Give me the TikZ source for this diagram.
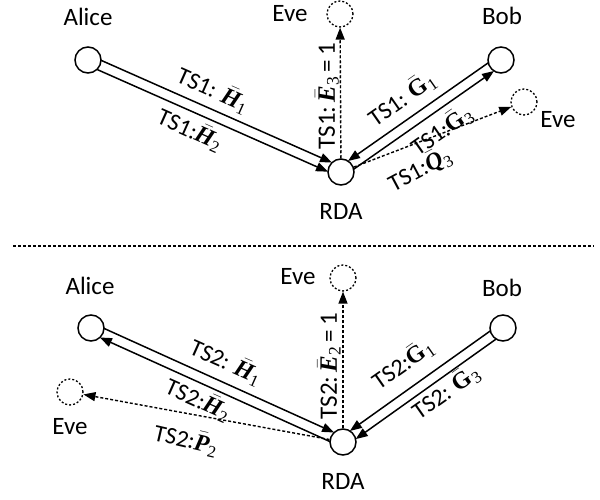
\documentclass[tikz,border=0pt]{standalone}
\usepackage{fontspec}
\usepackage{amsmath}
\setmainfont{Carlito}
\newfontfamily\mth{Liberation Serif}
\usetikzlibrary{calc,arrows.meta}
\newcommand{\vbi}[2]{$\bar{\text{\mth\bfseries\itshape #1}}_{\text{\mth #2}}$}
\newcommand{\vbu}[2]{$\bar{\text{\mth\bfseries #1}}_{\text{\mth #2}}$}
\begin{document}
\begin{tikzpicture}[x=1pt,y=-1pt,
  party/.style={circle,draw,line width=1.5pt,fill=white,minimum size=26pt,inner sep=0pt},
  eve/.style={circle,draw,line width=1.3pt,dash pattern=on 2pt off 2pt,minimum size=26pt,inner sep=0pt},
  who/.style={font=\fontsize{25}{28}\selectfont,inner sep=0pt},
  lab/.style={font=\fontsize{24}{26}\selectfont,inner sep=0pt},
  vlab/.style={font=\fontsize{25}{28}\selectfont,inner sep=0pt,rotate=90},
  link/.style={line width=1.5pt,-{Triangle[length=12pt,width=9pt]}},
  leak/.style={line width=1.4pt,dash pattern=on 3pt off 2pt,-{Triangle[length=12pt,width=9pt]}},
  sep/.style={line width=1.4pt,dash pattern=on 3pt off 2pt}
]
\useasboundingbox (0,0) rectangle (600,500);
% ---------- top half ----------
\node[party] (A1) at (88,60) {};
\node[party] (R1) at (341,172) {};
\node[party] (B1) at (501,60) {};
\node[eve] (Et1) at (340,14) {};
\node[eve] (Er1) at (524,102) {};
\node[who] (nA1) at (88,17) {Alice};
\node[who] (nB1) at (502,16) {Bob};
\node[who] (nEt1) at (290,14) {Eve};
\node[who] (nEr1) at (558,120) {Eve};
\node[who] (nR1) at (341,211) {RDA};

\draw[link,shorten <=12pt,shorten >=12pt] ($(A1.center)!5pt!90:(R1.center)$) -- ($(R1.center)!5pt!-90:(A1.center)$);
\draw[link,shorten <=12pt,shorten >=12pt] ($(A1.center)!5pt!-90:(R1.center)$) -- ($(R1.center)!5pt!90:(A1.center)$);
\draw[link,shorten <=12pt,shorten >=12pt] ($(B1.center)!5pt!-90:(R1.center)$) -- ($(R1.center)!5pt!90:(B1.center)$);
\draw[link,shorten <=12pt,shorten >=12pt] ($(R1.center)!5pt!-90:(B1.center)$) -- ($(B1.center)!5pt!90:(R1.center)$);
\draw[leak] (R1) -- (Et1);
\draw[leak] (R1) -- (Er1);

\node[lab,rotate=-24] (l1) at (213,90) {TS1: \vbi{H}{1}};
\node[lab,rotate=-24] (l2) at (190,130) {TS1:\vbi{H}{2}};
\node[vlab] (l3) at (327,96) {TS1:\,\vbi{E}{3}\,=\,1};
\node[lab,rotate=35] (l4) at (402,99) {TS1: \vbu{G}{1}};
\node[lab,rotate=35] (l5) at (442,131) {TS1:\vbu{G}{3}};
\node[lab,rotate=28] (l6) at (420,170) {TS1:\vbi{Q}{3}};

% separator
\coordinate (s1) at (13,246);
\coordinate (s2) at (594,246);
\draw[sep] (s1) -- (s2);

% ---------- bottom half ----------
\node[party] (A2) at (91,328) {};
\node[party] (R2) at (343,442) {};
\node[party] (B2) at (503,328) {};
\node[eve] (Et2) at (343,278) {};
\node[eve] (El2) at (70,392) {};
\node[who] (nA2) at (90,286) {Alice};
\node[who] (nB2) at (502,288) {Bob};
\node[who] (nEt2) at (298,277) {Eve};
\node[who] (nEl2) at (70,427) {Eve};
\node[who] (nR2) at (343,481) {RDA};

\draw[link,shorten <=12pt,shorten >=12pt] ($(A2.center)!5pt!90:(R2.center)$) -- ($(R2.center)!5pt!-90:(A2.center)$);
\draw[link,shorten <=12pt,shorten >=12pt] ($(R2.center)!5pt!90:(A2.center)$) -- ($(A2.center)!5pt!-90:(R2.center)$);
\draw[link,shorten <=12pt,shorten >=12pt] ($(B2.center)!5pt!-90:(R2.center)$) -- ($(R2.center)!5pt!90:(B2.center)$);
\draw[link,shorten <=12pt,shorten >=12pt] ($(B2.center)!5pt!90:(R2.center)$) -- ($(R2.center)!5pt!-90:(B2.center)$);
\draw[leak] (R2) -- (Et2);
\draw[leak] (R2) -- (El2);

\node[lab,rotate=-24] (m1) at (226,362) {TS2: \vbi{H}{1}};
\node[lab,rotate=-24] (m2) at (198,400) {TS2:\vbi{H}{2}};
\node[lab,rotate=-13] (m3) at (186,440) {TS2:\vbi{P}{2}};
\node[vlab] (m4) at (329,366) {TS2:\,\vbi{E}{2}\,=\,1};
\node[lab,rotate=35] (m5) at (403,364) {TS2:\vbu{G}{1}};
\node[lab,rotate=35] (m6) at (446,392) {TS2: \vbu{G}{3}};
\end{tikzpicture}
\end{document}
